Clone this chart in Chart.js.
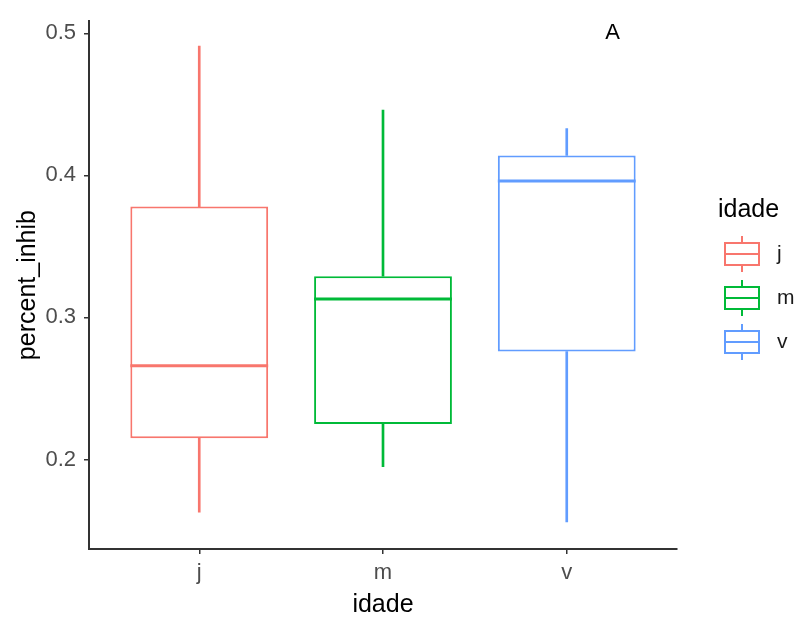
<!DOCTYPE html>
<html>
<head>
<meta charset="utf-8">
<script src="https://cdn.jsdelivr.net/npm/chart.js@4.4.0/dist/chart.umd.min.js"></script>
<style>
  body { margin: 0; background: #fff; }
  canvas { display: block; }
</style>
</head>
<body>
<canvas id="boxChart" width="800" height="620"></canvas>
<script>
// Five-number summaries per age group
const groups = ['j', 'm', 'v'];
const whiskerLow = [0.163, 0.195, 0.156];
const q1 = [0.215, 0.225, 0.276];
const medians = [0.266, 0.313, 0.396];
const q3 = [0.378, 0.329, 0.414];
const whiskerHigh = [0.491, 0.446, 0.433];
const yTicks = [0.2, 0.3, 0.4, 0.5];
const colors = ['#F8766D', '#00BA38', '#619CFF'];
const tagText = 'A';
const tagX = 3.25;
const tagY = 0.5;

const FONT = '"Liberation Sans", Arial, sans-serif';
const TICK_GREY = '#4D4D4D';
const AXIS_COLOR = '#333333';

// whiskers and boxes as floating bars on a numeric x axis (1, 2, 3)
const lowerWhiskers = groups.map((g, i) => ({ x: i + 1, y: [whiskerLow[i], q1[i]] }));
const upperWhiskers = groups.map((g, i) => ({ x: i + 1, y: [q3[i], whiskerHigh[i]] }));
const boxes = groups.map((g, i) => ({ x: i + 1, y: [q1[i], q3[i]] }));

// medians, tag and legend are drawn on top of the bars
const boxExtras = {
    id: 'boxExtras',
    afterDatasetsDraw(chart) {
        const ctx = chart.ctx;
        const xs = chart.scales.x;
        const ys = chart.scales.y;
        const area = chart.chartArea;
        const boxMeta = chart.getDatasetMeta(2);

        ctx.save();
        // median lines
        boxMeta.data.forEach((bar, i) => {
            const y = ys.getPixelForValue(medians[i]);
            ctx.strokeStyle = colors[i];
            ctx.lineWidth = 3;
            ctx.beginPath();
            ctx.moveTo(bar.x - bar.width / 2, y);
            ctx.lineTo(bar.x + bar.width / 2, y);
            ctx.stroke();
        });

        // panel tag
        ctx.fillStyle = '#000';
        ctx.font = '22px ' + FONT;
        ctx.textAlign = 'center';
        ctx.textBaseline = 'middle';
        ctx.fillText(tagText, xs.getPixelForValue(tagX), ys.getPixelForValue(tagY));

        // legend
        const keyX = area.right + 65;
        ctx.font = '25px ' + FONT;
        ctx.textAlign = 'left';
        ctx.fillStyle = '#000';
        ctx.fillText('idade', area.right + 41, 210);
        groups.forEach((g, i) => {
            const cy = 254 + i * 44;
            ctx.strokeStyle = colors[i];
            ctx.lineWidth = 2;
            ctx.strokeRect(keyX - 17, cy - 11, 34, 22);
            ctx.beginPath();
            ctx.moveTo(keyX - 17, cy);
            ctx.lineTo(keyX + 17, cy);
            ctx.moveTo(keyX, cy - 11);
            ctx.lineTo(keyX, cy - 18);
            ctx.moveTo(keyX, cy + 11);
            ctx.lineTo(keyX, cy + 18);
            ctx.stroke();
            ctx.fillStyle = '#1a1a1a';
            ctx.font = '21px ' + FONT;
            ctx.fillText(g, area.right + 100, cy);
        });
        ctx.restore();
    }
};

const ctx = document.getElementById('boxChart').getContext('2d');
new Chart(ctx, {
    type: 'bar',
    data: {
        datasets: [
            {
                data: lowerWhiskers,
                backgroundColor: colors,
                borderWidth: 0,
                barThickness: 2,
                grouped: false
            },
            {
                data: upperWhiskers,
                backgroundColor: colors,
                borderWidth: 0,
                barThickness: 2,
                grouped: false
            },
            {
                data: boxes,
                backgroundColor: '#ffffff',
                borderColor: colors,
                borderWidth: 2,
                borderSkipped: false,
                barPercentage: 0.75,
                categoryPercentage: 1,
                grouped: false
            }
        ]
    },
    options: {
        responsive: false,
        animation: false,
        layout: { padding: { top: 8, right: 123, left: 0, bottom: 0 } },
        plugins: {
            legend: { display: false },
            tooltip: { enabled: false }
        },
        scales: {
            x: {
                type: 'linear',
                min: 0.4,
                max: 3.6,
                offset: false,
                afterBuildTicks: axis => { axis.ticks = groups.map((g, i) => ({ value: i + 1 })); },
                afterFit: axis => { axis.height = 71; },
                ticks: {
                    callback: value => groups[value - 1],
                    color: TICK_GREY,
                    font: { family: FONT, size: 22 },
                    padding: 6
                },
                grid: { offset: false, drawOnChartArea: false, drawTicks: true, tickLength: 5, color: AXIS_COLOR, lineWidth: 1.5 },
                border: { display: true, color: AXIS_COLOR, width: 2 },
                title: {
                    display: true,
                    text: 'idade',
                    color: '#000',
                    font: { family: FONT, size: 25 },
                    padding: { top: 0, bottom: 0 }
                }
            },
            y: {
                min: 0.137,
                max: 0.5085,
                afterBuildTicks: axis => { axis.ticks = yTicks.map(v => ({ value: v })); },
                afterFit: axis => { axis.width = 89; },
                ticks: {
                    callback: value => value.toFixed(1),
                    color: TICK_GREY,
                    font: { family: FONT, size: 22 },
                    padding: 8
                },
                grid: { drawOnChartArea: false, drawTicks: true, tickLength: 5, color: AXIS_COLOR, lineWidth: 1.5 },
                border: { display: true, color: AXIS_COLOR, width: 2 },
                title: {
                    display: true,
                    text: 'percent_inhib',
                    color: '#000',
                    font: { family: FONT, size: 25 },
                    padding: { top: 13, bottom: 0 }
                }
            }
        }
    },
    plugins: [boxExtras]
});
</script>
</body>
</html>
